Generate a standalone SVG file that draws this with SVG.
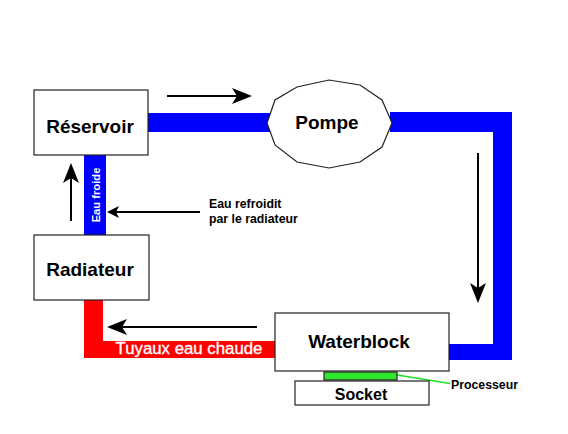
<svg xmlns="http://www.w3.org/2000/svg" width="568" height="434" viewBox="0 0 568 434">
<style>
.box{fill:#fff;stroke:#222;stroke-width:1.2}
.lbl{font-family:"Liberation Sans",Arial,sans-serif;font-weight:bold;fill:#000}
.big{font-size:19px}
.small{font-size:12.3px}
.blue{fill:#0000ff}
.red{fill:#ff0000}
.arr{stroke:#000;stroke-width:2;fill:none}
</style>
<defs>
<marker id="ah" viewBox="0 0 20 16" refX="5" refY="8" markerWidth="20" markerHeight="16" markerUnits="userSpaceOnUse" orient="auto">
<path d="M0,0 L20,8 L0,16 L5,8 Z" fill="#000"/>
</marker>
<marker id="ahs" viewBox="0 0 12 12" refX="3" refY="6" markerWidth="12" markerHeight="12" markerUnits="userSpaceOnUse" orient="auto">
<path d="M0,0 L12,6 L0,12 L3,6 Z" fill="#000"/>
</marker>
</defs>
<rect width="568" height="434" fill="#fff"/>
<g id="connectors">
<rect class="blue" x="148" y="113" width="124" height="19"/>
<path class="blue" d="M390,112 H512 V360 H449 V344 H493 V132 H390 Z"/>
<rect class="blue" x="84" y="155" width="22" height="80"/>
<text class="lbl" font-size="11.2" style="fill:#fff" transform="translate(99.5,195) rotate(-90)" text-anchor="middle">Eau froide</text>
<path class="red" d="M84,300 H103 V341 H276 V358 H84 Z"/>
<text class="lbl" font-size="16.8" style="fill:#fff;font-weight:normal;stroke:#fff;stroke-width:0.35" x="189" y="354" text-anchor="middle">Tuyaux eau chaude</text>
<line class="arr" x1="167" y1="96" x2="237" y2="96" marker-end="url(#ah)"/>
<line class="arr" x1="478" y1="153" x2="478" y2="288" marker-end="url(#ah)"/>
<line class="arr" x1="257" y1="327" x2="122" y2="327" marker-end="url(#ah)"/>
<line class="arr" x1="71" y1="221" x2="71" y2="178" marker-end="url(#ah)"/>
<line class="arr" x1="200" y1="212" x2="116" y2="212" marker-end="url(#ahs)"/>
<line x1="397" y1="375" x2="450" y2="383.5" stroke="#22dd22" stroke-width="1.5"/>
</g>
<g id="reservoir">
<rect class="box" x="34" y="90" width="114" height="65"/>
<text class="lbl big" x="90" y="133" text-anchor="middle">Réservoir</text>
</g>
<g id="pompe">
<polygon class="box" points="267,123 275,100 297,87 329,80 360,85 382,100 392,123 382,147 360,162 329,168 297,162 275,145"/>
<text class="lbl big" x="327" y="129" text-anchor="middle">Pompe</text>
</g>
<g id="radiateur">
<rect class="box" x="34" y="235" width="115" height="65"/>
<text class="lbl big" x="90" y="276" text-anchor="middle">Radiateur</text>
</g>
<g id="waterblock">
<rect class="box" x="275" y="313" width="174" height="58"/>
<text class="lbl big" x="359" y="348" text-anchor="middle">Waterblock</text>
</g>
<g id="processeur">
<rect x="324" y="372" width="73" height="8" fill="#2ee62e" stroke="#222" stroke-width="1.2"/>
</g>
<g id="socket">
<rect class="box" x="295" y="381" width="134" height="24"/>
<text class="lbl" font-size="16" x="361" y="400" text-anchor="middle">Socket</text>
</g>
<g id="labels">
<text class="lbl small" x="451" y="389">Processeur</text>
<text class="lbl small" x="209" y="208">Eau refroidit</text>
<text class="lbl small" x="209" y="223">par le radiateur</text>
</g>
</svg>
